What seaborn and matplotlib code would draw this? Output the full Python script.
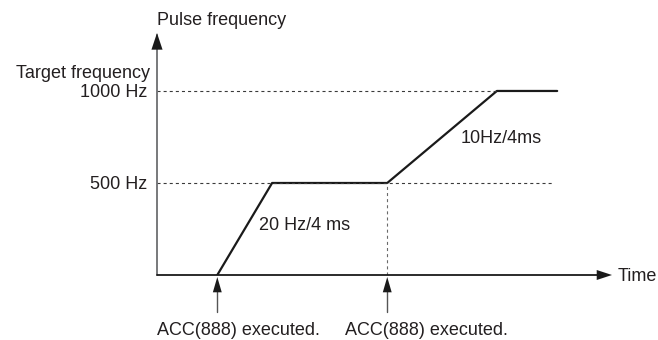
import matplotlib
matplotlib.use("Agg")
import matplotlib.pyplot as plt
import seaborn as sns
import pandas as pd
from matplotlib.patches import ArrowStyle
from matplotlib.transforms import blended_transform_factory

# Pulse output profile: two ACC(888) executions with different acceleration rates
time_ms = [0, 100, 310, 510, 620]
freq_hz = [0, 500, 500, 1000, 1000]
freq_ticks = [500, 1000]
freq_tick_labels = ["500 Hz", "1000 Hz"]
exec_times_ms = [time_ms[0], time_ms[2]]
exec_label = "ACC(888) executed."
rate_labels = ["20 Hz/4 ms", "10Hz/4ms"]

sns.set_theme(style="white")
plt.rcParams["font.family"] = ["Liberation Sans", "DejaVu Sans"]
plt.rcParams["lines.scale_dashes"] = False

W, H = 658, 340
TXT = "#231f20"
FS = 13


def fx(px):
    return px / W


def fy(py):
    return 1 - py / H


fig = plt.figure(figsize=(W / 100, H / 100), dpi=100)
ax = fig.add_axes([fx(157), fy(275), (612 - 157) / W, (275 - 33) / H])

df = pd.DataFrame({"time": time_ms, "freq": freq_hz})
sns.lineplot(data=df, x="time", y="freq", ax=ax, color="#1a1a1a", lw=1.6,
             estimator=None, sort=False)

x0, x1 = -110, 720
ax.set_xlim(x0, x1)
ax.set_ylim(0, 1315)
ax.set_xlabel("")
ax.set_ylabel("")
ax.set_xticks([])
ax.set_yticks(freq_ticks)
ax.set_yticklabels(freq_tick_labels, fontsize=FS, color=TXT)
ax.tick_params(axis="y", length=0, pad=7)
for sp in ax.spines.values():
    sp.set_visible(False)

# reference levels
dash = (0, (2.2, 2.2))
ax.plot([x0, time_ms[3]], [freq_hz[3], freq_hz[3]], ls=dash, lw=0.8, color="#3a3a3a")
ax.plot([x0, 613], [freq_hz[1], freq_hz[1]], ls=dash, lw=0.8, color="#3a3a3a")
ax.plot([time_ms[2], time_ms[2]], [0, freq_hz[2]], ls=dash, lw=0.8, color="#6a6a6a")

# axes with arrowheads
ta = ax.transAxes
ax.plot([0, 0], [0, 0.99], transform=ta, color="#6d6e71", lw=1.3, clip_on=False)
ax.plot([0, 0.99], [0, 0], transform=ta, color="#1a1a1a", lw=1.3, clip_on=False)
head_y = ArrowStyle("-|>", head_length=12, head_width=4)
head_x = ArrowStyle("-|>", head_length=11, head_width=3.6)
ax.annotate("", xy=(0, 1), xycoords=ta, xytext=(0, -12), textcoords="offset points",
            arrowprops=dict(arrowstyle=head_y, mutation_scale=1, lw=0, color="#1a1a1a",
                            shrinkA=0, shrinkB=0), annotation_clip=False)
ax.annotate("", xy=(1, 0), xycoords=ta, xytext=(-11, 0), textcoords="offset points",
            arrowprops=dict(arrowstyle=head_x, mutation_scale=1, lw=0, color="#1a1a1a",
                            shrinkA=0, shrinkB=0), annotation_clip=False)

# execution markers below the time axis
head_s = ArrowStyle("-|>", head_length=11, head_width=3.2)
for t in exec_times_ms:
    ax.plot([t, t], [-201, -60], color="#555555", lw=1.0, clip_on=False)
    ax.annotate("", xy=(t, -11), xycoords="data", xytext=(0, -11), textcoords="offset points",
                arrowprops=dict(arrowstyle=head_s, mutation_scale=1, lw=0, color="#1a1a1a",
                                shrinkA=0, shrinkB=0), annotation_clip=False)

# text
fig.text(fx(157), fy(25), "Pulse frequency", fontsize=FS, color=TXT, va="baseline", ha="left")
fig.text(fx(150), fy(78), "Target frequency", fontsize=FS, color=TXT, va="baseline", ha="right")
fig.text(fx(618), fy(281), "Time", fontsize=FS, color=TXT, va="baseline", ha="left")
fig.text(fx(259), fy(230), rate_labels[0], fontsize=FS, color=TXT, va="baseline", ha="left")
fig.text(fx(461), fy(143), rate_labels[1], fontsize=FS, color=TXT, va="baseline", ha="left")
for left in (157, 345):
    fig.text(fx(left), fy(335), exec_label, fontsize=FS, color=TXT, va="baseline", ha="left")

fig.savefig("out.png", dpi=100, facecolor="white")
